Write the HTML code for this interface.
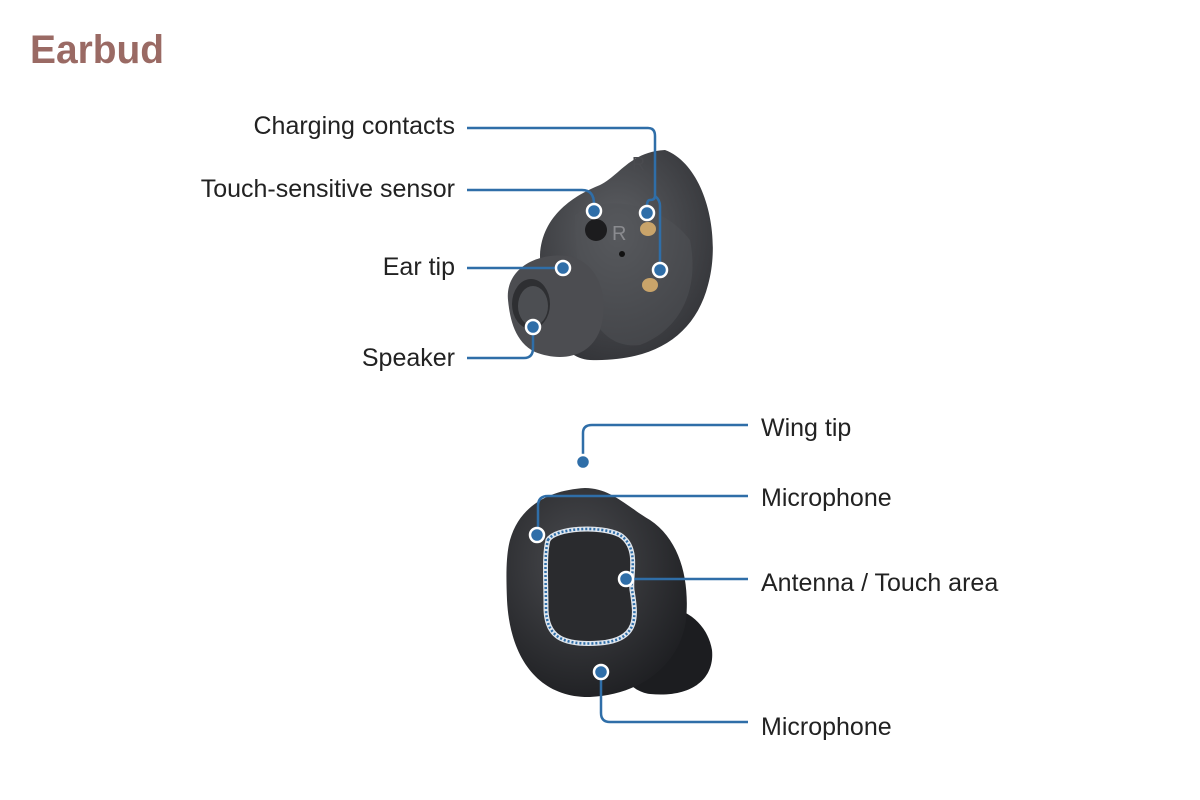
<!DOCTYPE html>
<html><head><meta charset="utf-8"><style>
body{margin:0;background:#fff;}
svg{display:block}
text{font-family:"Liberation Sans",sans-serif;}
</style></head><body>
<svg width="1200" height="800" viewBox="0 0 1200 800">
<defs>
<radialGradient id="g1" cx="0.45" cy="0.4" r="0.7"><stop offset="0" stop-color="#5e6064"/><stop offset="1" stop-color="#2f3034"/></radialGradient>
<radialGradient id="g2" cx="0.4" cy="0.35" r="0.7"><stop offset="0" stop-color="#4a4b4f"/><stop offset="1" stop-color="#1e1f22"/></radialGradient>
</defs>
<text x="30" y="63" font-size="40" font-weight="bold" fill="#9a6a64" textLength="134" lengthAdjust="spacingAndGlyphs">Earbud</text>
<g font-size="25" fill="#222">
<text x="455" y="134" text-anchor="end">Charging contacts</text>
<text x="455" y="197" text-anchor="end">Touch-sensitive sensor</text>
<text x="455" y="275" text-anchor="end">Ear tip</text>
<text x="455" y="366" text-anchor="end">Speaker</text>
<text x="761" y="436">Wing tip</text>
<text x="761" y="506">Microphone</text>
<text x="761" y="591">Antenna / Touch area</text>
<text x="761" y="735">Microphone</text>
</g>
<!-- top earbud -->
<path d="M540,255 C542,215 575,195 600,185 C620,175 630,152 665,150 C705,165 722,235 708,285 C695,335 655,362 590,360 C560,358 540,320 540,255 Z" fill="url(#g1)"/>
<path d="M575,215 C600,195 660,200 690,240 C700,290 680,330 640,345 C600,350 575,310 575,215Z" fill="#505256" opacity="0.5"/>
<circle cx="596" cy="230" r="11" fill="#1c1c1e"/>
<text x="612" y="240" font-size="20" fill="#8a8b8f">R</text>
<text x="632" y="170" font-size="18" fill="#4a4b4f">R</text>
<circle cx="622" cy="254" r="3" fill="#111"/>
<ellipse cx="648" cy="229" rx="8" ry="7" fill="#c9a46a"/>
<ellipse cx="650" cy="285" rx="8" ry="7" fill="#c9a46a"/>
<path d="M508,300 C505,270 535,252 568,256 C600,262 610,300 600,330 C590,358 560,362 535,352 C515,342 510,320 508,300Z" fill="#4c4d51"/>
<ellipse cx="531" cy="304" rx="19" ry="25" fill="#2e2f32"/>
<ellipse cx="533" cy="306" rx="15" ry="20" fill="#5a5b5f" opacity="0.7"/>
<!-- bottom earbud -->
<path d="M620,610 C660,595 705,610 712,650 C715,680 690,698 650,694 C620,690 605,650 620,610Z" fill="#1c1d20"/>
<path d="M510,540 C520,505 550,490 585,488 C610,488 625,505 650,520 C680,540 690,580 686,620 C680,665 640,695 590,697 C540,698 510,660 507,600 C506,575 506,555 510,540Z" fill="url(#g2)"/>
<path d="M548,540 C555,528 600,525 620,535 C640,548 630,575 632,590 C636,615 640,640 600,643 C560,646 547,635 546,610 C546,580 544,555 548,540Z" fill="#2a2b2e" stroke="#dfe6ee" stroke-width="5"/>
<path d="M548,540 C555,528 600,525 620,535 C640,548 630,575 632,590 C636,615 640,640 600,643 C560,646 547,635 546,610 C546,580 544,555 548,540Z" fill="none" stroke="#2f6ea8" stroke-width="2.5" stroke-dasharray="2 2"/>
<!-- leaders -->
<g stroke="#2f6ea8" stroke-width="2.5" fill="none">
<path d="M467,128 H648 Q655,128 655,136 V196 Q655,200 650,200 Q647,200 647,206"/>
<path d="M655,196 Q660,200 660,206 V268"/>
<path d="M467,190 H582 Q594,190 594,204"/>
<path d="M467,268 H563"/>
<path d="M467,358 H524 Q533,358 533,348 V327"/>
<path d="M583,462 V433 Q583,425 592,425 H748"/>
<path d="M748,496 H548 Q538,496 538,506 V535"/>
<path d="M626,579 H748"/>
<path d="M601,672 V713 Q601,722 610,722 H748"/>
</g>
<g fill="#2f6ea8" stroke="#fff" stroke-width="2.5">
<circle cx="647" cy="213" r="7"/>
<circle cx="660" cy="270" r="7"/>
<circle cx="594" cy="211" r="7"/>
<circle cx="563" cy="268" r="7"/>
<circle cx="533" cy="327" r="7"/>
<circle cx="583" cy="462" r="7"/>
<circle cx="537" cy="535" r="7"/>
<circle cx="626" cy="579" r="7"/>
<circle cx="601" cy="672" r="7"/>
</g>
</svg>
</body></html>
